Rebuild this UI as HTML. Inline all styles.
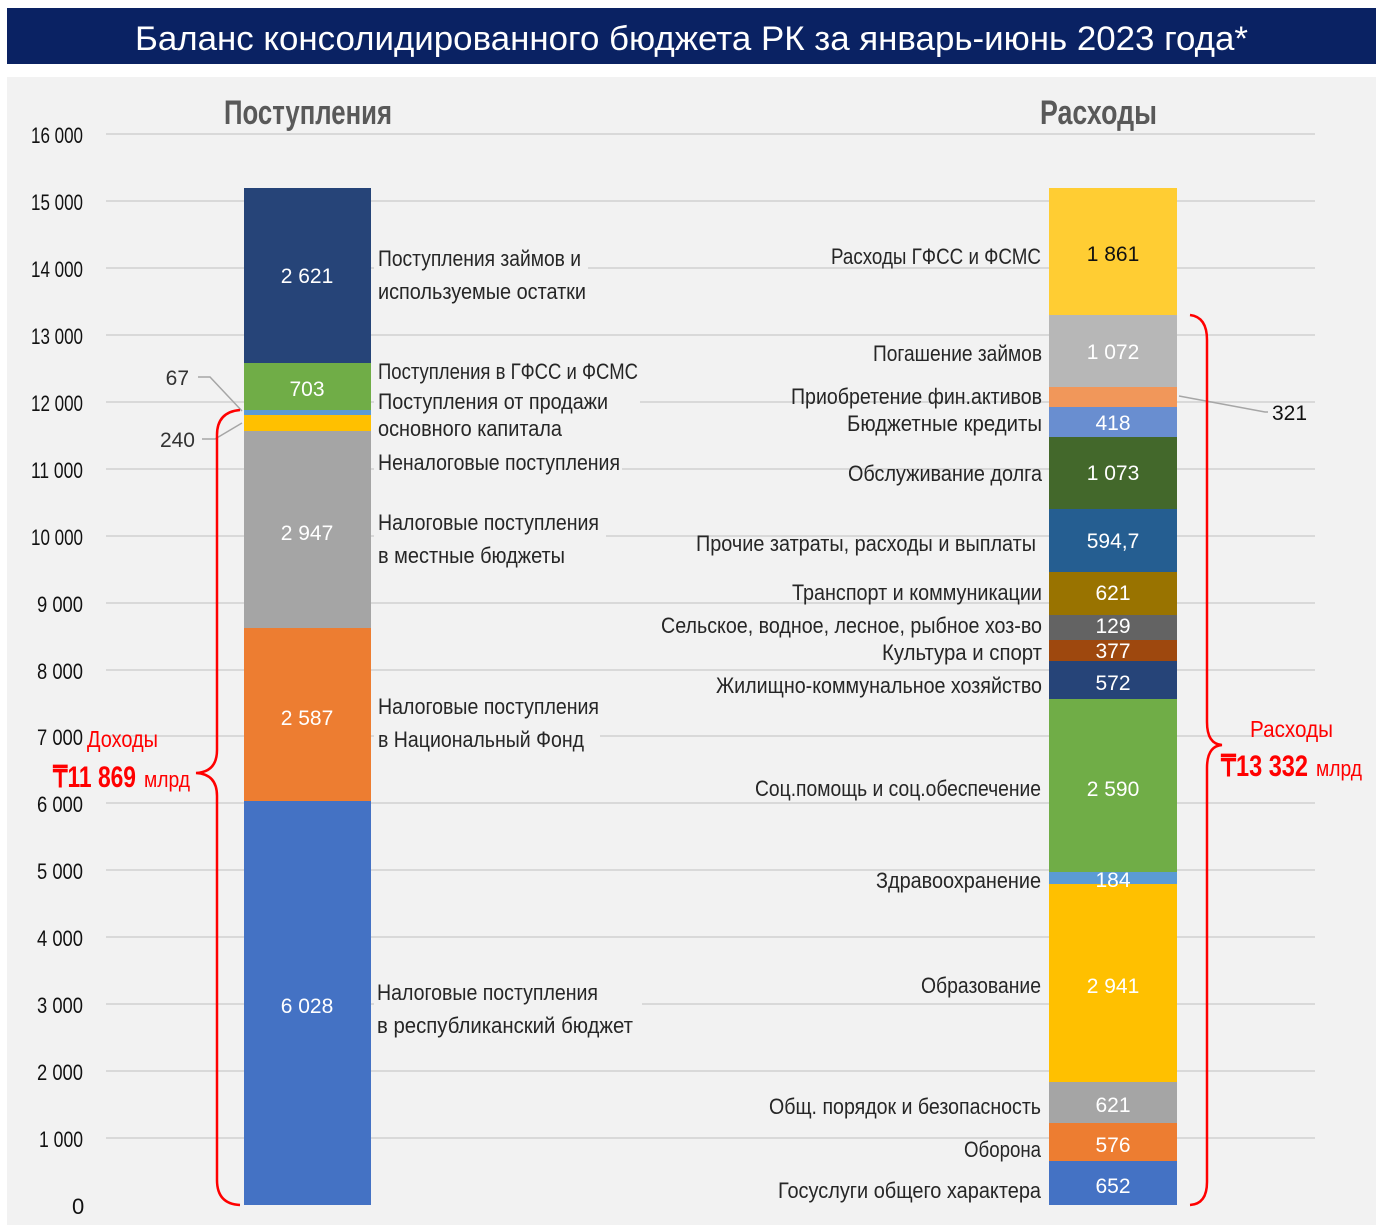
<!DOCTYPE html>
<html><head><meta charset="utf-8"><style>
body{margin:0;background:#fff;}
svg text{font-family:"Liberation Sans",sans-serif;}
</style></head><body>
<svg width="1384" height="1225" viewBox="0 0 1384 1225" xmlns="http://www.w3.org/2000/svg">
<rect x="7" y="8" width="1369" height="56" fill="#0a2263"/>
<text x="135" y="50" fill="#fff" font-size="34" textLength="1113" lengthAdjust="spacingAndGlyphs">Баланс консолидированного бюджета РК за январь-июнь 2023 года*</text>
<rect x="7" y="77" width="1369" height="1148" fill="#f2f2f2"/>
<g stroke="#d9d9d9" stroke-width="2">
<line x1="106" x2="1315" y1="134" y2="134"/><line x1="106" x2="1315" y1="201" y2="201"/>
<line x1="106" x2="1315" y1="268" y2="268"/><line x1="106" x2="1315" y1="335" y2="335"/>
<line x1="106" x2="1315" y1="402" y2="402"/><line x1="106" x2="1315" y1="469" y2="469"/>
<line x1="106" x2="1315" y1="536" y2="536"/><line x1="106" x2="1315" y1="603" y2="603"/>
<line x1="106" x2="1315" y1="670" y2="670"/><line x1="106" x2="1315" y1="736" y2="736"/>
<line x1="106" x2="1315" y1="803" y2="803"/><line x1="106" x2="1315" y1="870" y2="870"/>
<line x1="106" x2="1315" y1="937" y2="937"/><line x1="106" x2="1315" y1="1004" y2="1004"/>
<line x1="106" x2="1315" y1="1071" y2="1071"/><line x1="106" x2="1315" y1="1138" y2="1138"/>
</g>
<g font-size="22" fill="#111" lengthAdjust="spacingAndGlyphs">
<text x="31" y="143" textLength="52" lengthAdjust="spacingAndGlyphs">16 000</text><text x="31" y="210" textLength="52" lengthAdjust="spacingAndGlyphs">15 000</text><text x="31" y="277" textLength="52" lengthAdjust="spacingAndGlyphs">14 000</text>
<text x="31" y="344" textLength="52" lengthAdjust="spacingAndGlyphs">13 000</text><text x="31" y="411" textLength="52" lengthAdjust="spacingAndGlyphs">12 000</text><text x="31" y="478" textLength="52" lengthAdjust="spacingAndGlyphs">11 000</text>
<text x="31" y="545" textLength="52" lengthAdjust="spacingAndGlyphs">10 000</text><text x="37" y="612" textLength="46" lengthAdjust="spacingAndGlyphs">9 000</text><text x="37" y="679" textLength="46" lengthAdjust="spacingAndGlyphs">8 000</text>
<text x="37" y="745" textLength="46" lengthAdjust="spacingAndGlyphs">7 000</text><text x="37" y="812" textLength="46" lengthAdjust="spacingAndGlyphs">6 000</text><text x="37" y="879" textLength="46" lengthAdjust="spacingAndGlyphs">5 000</text>
<text x="37" y="946" textLength="46" lengthAdjust="spacingAndGlyphs">4 000</text><text x="37" y="1013" textLength="46" lengthAdjust="spacingAndGlyphs">3 000</text><text x="37" y="1080" textLength="46" lengthAdjust="spacingAndGlyphs">2 000</text>
<text x="39" y="1147" textLength="44" lengthAdjust="spacingAndGlyphs">1 000</text><text x="72" y="1214">0</text>
</g>
<text x="224" y="124" font-size="34" font-weight="bold" fill="#595959" textLength="168" lengthAdjust="spacingAndGlyphs">Поступления</text>
<text x="1040" y="124" font-size="34" font-weight="bold" fill="#595959" textLength="117" lengthAdjust="spacingAndGlyphs">Расходы</text>
<!-- left bar -->
<rect x="244" y="801" width="127" height="404" fill="#4472c4"/>
<rect x="244" y="628" width="127" height="173" fill="#ed7d31"/>
<rect x="244" y="431" width="127" height="197" fill="#a5a5a5"/>
<rect x="244" y="415" width="127" height="16" fill="#ffc000"/>
<rect x="244" y="410" width="127" height="5" fill="#5b9bd5"/>
<rect x="244" y="363" width="127" height="47" fill="#70ad47"/>
<rect x="244" y="188" width="127" height="175" fill="#264478"/>
<g font-size="21" fill="#fff" text-anchor="middle">
<text x="307" y="283">2 621</text><text x="307" y="396">703</text><text x="307" y="540">2 947</text>
<text x="307" y="725">2 587</text><text x="307" y="1013">6 028</text>
</g>
<g stroke="#a6a6a6" stroke-width="1.5" fill="none">
<polyline points="198,377 210,377 242,411"/><polyline points="202,439 215,439 242,423"/>
</g>
<text x="189" y="385" font-size="21" fill="#333" text-anchor="end">67</text>
<text x="195" y="447" font-size="21" fill="#333" text-anchor="end">240</text>
<g font-size="22" fill="#262626">
<rect x="374" y="243" width="214" height="62" fill="#f2f2f2"/>
<text x="378" y="266" textLength="203" lengthAdjust="spacingAndGlyphs">Поступления займов и</text><text x="378" y="299" textLength="208" lengthAdjust="spacingAndGlyphs">используемые остатки</text>
<rect x="374" y="355" width="266" height="86" fill="#f2f2f2"/>
<text x="378" y="379" textLength="260" lengthAdjust="spacingAndGlyphs">Поступления в ГФСС и ФСМС</text><text x="378" y="409" textLength="230" lengthAdjust="spacingAndGlyphs">Поступления от продажи</text><text x="378" y="436" textLength="184" lengthAdjust="spacingAndGlyphs">основного капитала</text>
<rect x="374" y="447" width="248" height="28" fill="#f2f2f2"/>
<text x="378" y="470" textLength="242" lengthAdjust="spacingAndGlyphs">Неналоговые поступления</text>
<rect x="374" y="507" width="232" height="62" fill="#f2f2f2"/>
<text x="378" y="530" textLength="221" lengthAdjust="spacingAndGlyphs">Налоговые поступления</text><text x="378" y="563" textLength="187" lengthAdjust="spacingAndGlyphs">в местные бюджеты</text>
<rect x="374" y="691" width="226" height="62" fill="#f2f2f2"/>
<text x="378" y="714" textLength="221" lengthAdjust="spacingAndGlyphs">Налоговые поступления</text><text x="378" y="747" textLength="206" lengthAdjust="spacingAndGlyphs">в Национальный Фонд</text>
<rect x="374" y="977" width="268" height="62" fill="#f2f2f2"/>
<text x="377" y="1000" textLength="221" lengthAdjust="spacingAndGlyphs">Налоговые поступления</text><text x="377" y="1033" textLength="256" lengthAdjust="spacingAndGlyphs">в республиканский бюджет</text>
</g>
<!-- right bar -->
<rect x="1049" y="1161" width="128" height="44" fill="#4472c4"/>
<rect x="1049" y="1123" width="128" height="38" fill="#ed7d31"/>
<rect x="1049" y="1082" width="128" height="41" fill="#a5a5a5"/>
<rect x="1049" y="884" width="128" height="198" fill="#ffc000"/>
<rect x="1049" y="872" width="128" height="12" fill="#5b9bd5"/>
<rect x="1049" y="699" width="128" height="173" fill="#70ad47"/>
<rect x="1049" y="661" width="128" height="38" fill="#264478"/>
<rect x="1049" y="640" width="128" height="21" fill="#9e480e"/>
<rect x="1049" y="615" width="128" height="25" fill="#636363"/>
<rect x="1049" y="572" width="128" height="43" fill="#997300"/>
<rect x="1049" y="509" width="128" height="63" fill="#255e91"/>
<rect x="1049" y="437" width="128" height="72" fill="#43682b"/>
<rect x="1049" y="407" width="128" height="30" fill="#698ed0"/>
<rect x="1049" y="387" width="128" height="20" fill="#f1975a"/>
<rect x="1049" y="315" width="128" height="72" fill="#b7b7b7"/>
<rect x="1049" y="188" width="128" height="127" fill="#ffcd33"/>
<g font-size="21" fill="#fff" text-anchor="middle">
<text x="1113" y="261" fill="#111">1 861</text><text x="1113" y="359">1 072</text><text x="1113" y="430">418</text>
<text x="1113" y="480">1 073</text><text x="1113" y="548">594,7</text><text x="1113" y="600">621</text>
<text x="1113" y="633">129</text><text x="1113" y="658">377</text><text x="1113" y="690">572</text>
<text x="1113" y="796">2 590</text><text x="1113" y="887">184</text><text x="1113" y="993">2 941</text>
<text x="1113" y="1112">621</text><text x="1113" y="1152">576</text><text x="1113" y="1193">652</text>
</g>
<polyline points="1179,396 1265,412 1268,412" stroke="#a6a6a6" stroke-width="1.5" fill="none"/>
<text x="1272" y="420" font-size="21" fill="#111">321</text>
<g font-size="22" fill="#262626">
<text x="831" y="264" textLength="210" lengthAdjust="spacingAndGlyphs">Расходы ГФСС и ФСМС</text>
<text x="873" y="361" textLength="169" lengthAdjust="spacingAndGlyphs">Погашение займов</text>
<text x="791" y="404" textLength="251" lengthAdjust="spacingAndGlyphs">Приобретение фин.активов</text>
<text x="847" y="431" textLength="195" lengthAdjust="spacingAndGlyphs">Бюджетные кредиты</text>
<text x="848" y="481" textLength="194" lengthAdjust="spacingAndGlyphs">Обслуживание долга</text>
<text x="696" y="551" textLength="340" lengthAdjust="spacingAndGlyphs">Прочие затраты, расходы и выплаты</text>
<text x="792" y="600" textLength="250" lengthAdjust="spacingAndGlyphs">Транспорт и коммуникации</text>
<text x="661" y="633" textLength="381" lengthAdjust="spacingAndGlyphs">Сельское, водное, лесное, рыбное хоз-во</text>
<text x="882" y="660" textLength="160" lengthAdjust="spacingAndGlyphs">Культура и спорт</text>
<text x="716" y="693" textLength="326" lengthAdjust="spacingAndGlyphs">Жилищно-коммунальное хозяйство</text>
<text x="755" y="796" textLength="286" lengthAdjust="spacingAndGlyphs">Соц.помощь и соц.обеспечение</text>
<text x="876" y="888" textLength="165" lengthAdjust="spacingAndGlyphs">Здравоохранение</text>
<text x="921" y="993" textLength="120" lengthAdjust="spacingAndGlyphs">Образование</text>
<text x="769" y="1114" textLength="272" lengthAdjust="spacingAndGlyphs">Общ. порядок и безопасность</text>
<text x="964" y="1157" textLength="77" lengthAdjust="spacingAndGlyphs">Оборона</text>
<text x="778" y="1198" textLength="263" lengthAdjust="spacingAndGlyphs">Госуслуги общего характера</text>
</g>
<!-- brackets -->
<path d="M240,410 Q217,412 217,435 L217,750 Q217,772 196,773 Q217,774 217,796 L217,1180 Q217,1204 240,1205" stroke="#ff0000" stroke-width="2.5" fill="none"/>
<path d="M1190,315 Q1207,317 1207,340 L1207,722 Q1207,744 1222,745 Q1207,746 1207,768 L1207,1182 Q1207,1204 1190,1205" stroke="#ff0000" stroke-width="2.5" fill="none"/>
<text x="87" y="747" font-size="23" fill="#ff0000" textLength="71" lengthAdjust="spacingAndGlyphs">Доходы</text>
<text x="53" y="787" font-size="30" font-weight="bold" fill="#ff0000" textLength="83" lengthAdjust="spacingAndGlyphs">₸11 869</text>
<text x="144" y="787" font-size="22" fill="#ff0000" textLength="46" lengthAdjust="spacingAndGlyphs">млрд</text>
<text x="1250" y="737" font-size="23" fill="#ff0000" textLength="83" lengthAdjust="spacingAndGlyphs">Расходы</text>
<text x="1221" y="776" font-size="30" font-weight="bold" fill="#ff0000" textLength="87" lengthAdjust="spacingAndGlyphs">₸13 332</text>
<text x="1316" y="776" font-size="22" fill="#ff0000" textLength="46" lengthAdjust="spacingAndGlyphs">млрд</text>
</svg>
</body></html>
